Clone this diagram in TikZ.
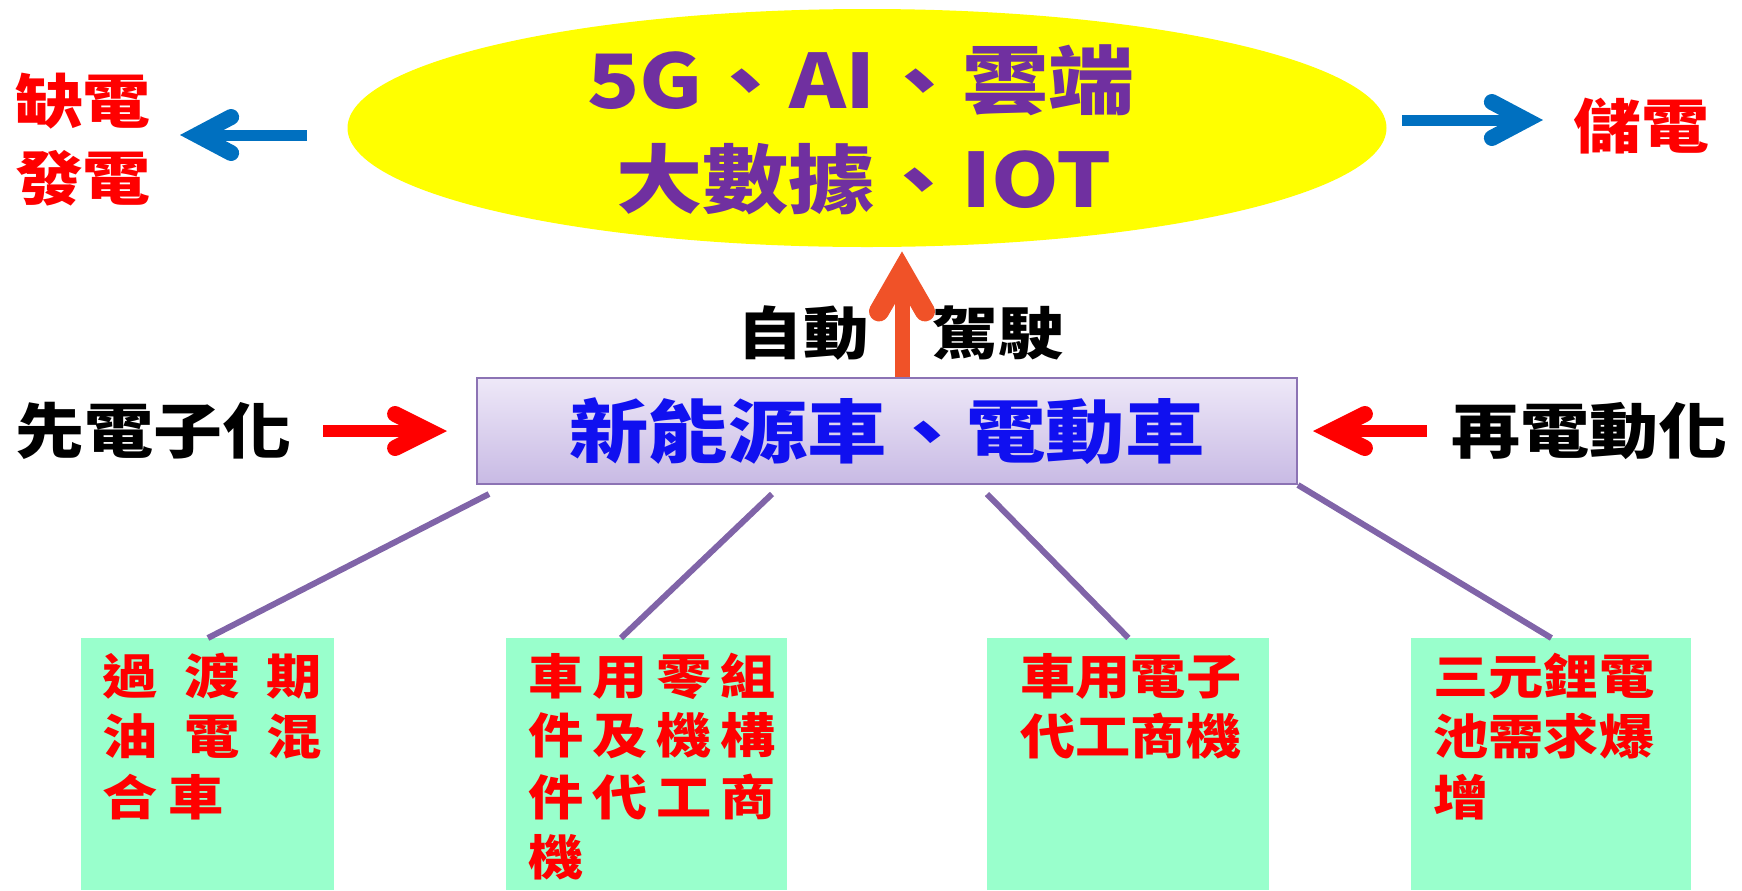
\documentclass[tikz,border=0pt]{standalone}
\usepackage{fontspec}
\setmainfont{Noto Sans CJK TC}[FakeStretch=1.15]
\usetikzlibrary{arrows.meta,shapes.geometric}
\definecolor{ellyellow}{RGB}{255,255,0}
\definecolor{ellpurple}{RGB}{112,48,160}
\definecolor{arrblue}{RGB}{0,112,192}
\definecolor{arrred}{RGB}{255,0,0}
\definecolor{arrorange}{RGB}{240,82,40}
\definecolor{linepurple}{RGB}{128,100,168}
\definecolor{mint}{RGB}{153,255,204}
\definecolor{cartop}{RGB}{238,232,248}
\definecolor{carbot}{RGB}{200,186,228}
\definecolor{carborder}{RGB}{140,115,180}
\definecolor{cartext}{RGB}{16,16,240}
\begin{document}
\begin{tikzpicture}[x=0.5pt,y=-0.5pt,
  lbl/.style={inner sep=0pt, font=\bfseries\fontsize{#1}{#1}\selectfont},
  btxt/.style={inner sep=0pt, anchor=west, text=arrred, font=\bfseries\fontsize{24}{24}\selectfont},
  greenbox/.style={fill=mint, draw=none, inner sep=0pt, anchor=north west, minimum height=126pt},
  carbox/.style={rectangle, top color=cartop, bottom color=carbot, draw=carborder, line width=1pt,
    minimum width=410pt, minimum height=53pt, inner sep=0pt, text=cartext,
    font=\bfseries\fontsize{34.5}{34.5}\selectfont},
  bluearrow/.style={draw=arrblue, line width=5.5pt,
    -{Straight Barb[length=17pt,width=18pt,line width=8pt,line cap=round,line join=miter]}},
  redarrow/.style={draw=arrred, line width=6pt,
    -{Straight Barb[length=17pt,width=17pt,line width=8pt,line cap=round,line join=miter]}},
  orangearrow/.style={draw=arrorange, line width=7.5pt,
    -{Straight Barb[length=20pt,width=23pt,line width=10pt,line cap=round,line join=miter]}},
  plink/.style={draw=linepurple, line width=3pt}]
\useasboundingbox (0,0) rectangle (1742,890);

% top ellipse
\node[ellipse, fill=ellyellow, draw=none, minimum width=519.5pt, minimum height=119pt, inner sep=0pt] (ell) at (867,128) {};
\node[lbl=37.5, text=ellpurple] (e1) at (861,80) {5G、AI、雲端};
\node[lbl=37.5, text=ellpurple] (e2) at (864,179) {大數據、IOT};

% side labels top
\node[lbl=29.5, text=arrred] (que) at (83,101) {缺電};
\node[lbl=29.5, text=arrred] (fa) at (83,178) {發電};
\node[lbl=29.5, text=arrred] (chu) at (1641,126) {儲電};

\coordinate (bl1) at (307,135);
\coordinate (bl2) at (180,135);
\coordinate (br1) at (1402,120);
\coordinate (br2) at (1543,120);
\draw[bluearrow] (bl1) -- (bl2);
\draw[bluearrow] (br1) -- (br2);

% central rectangle
\node[carbox] (car) at (887,431) {新能源車、電動車};

\node[lbl=30] (xian) at (154,431) {先電子化};
\node[lbl=30] (zai) at (1589,431) {再電動化};
\draw[redarrow] ([xshift=15.5pt]xian.east) -- ([xshift=-14.5pt]car.west);
\draw[redarrow] ([xshift=-12pt]zai.west) -- ([xshift=7.5pt]car.east);

\node[lbl=28.5] (zid) at (803,333) {自動};
\node[lbl=28.5] (jia) at (998,333) {駕駛};
\coordinate (ux) at (902,0);
\draw[orangearrow, shorten >=2pt] (car.north -| ux) -- (ell.south -| ux);

% bottom boxes
\node[greenbox, minimum width=126.5pt] (b1) at (81,638) {};
\node[greenbox, minimum width=140.5pt] (b2) at (506,638) {};
\node[greenbox, minimum width=141pt] (b3) at (987,638) {};
\node[greenbox, minimum width=140pt] (b4) at (1411,638) {};

\coordinate (p1t) at (489,494);
\coordinate (p2t) at (772,494);
\coordinate (p2b) at (621,638);
\coordinate (p3t) at (987,494);
\draw[plink] (p1t) -- (b1.north);
\draw[plink] (p2t) -- (p2b);
\draw[plink] (p3t) -- (b3.north);
\draw[plink] (car.south east) -- (b4.north);

% box texts
\node[btxt] (t11) at (102,676) {過\hspace{13.4pt}渡\hspace{13.4pt}期};
\node[btxt] (t12) at (102,736) {油\hspace{13.4pt}電\hspace{13.4pt}混};
\node[btxt] (t13) at (102,797) {合\hspace{5.5pt}車};

\node[btxt] (t21) at (528,676) {車\hspace{4.4pt}用\hspace{4.4pt}零\hspace{4.4pt}組};
\node[btxt] (t22) at (528,736) {件\hspace{4.4pt}及\hspace{4.4pt}機\hspace{4.4pt}構};
\node[btxt] (t23) at (528,797) {件\hspace{4.4pt}代\hspace{4.4pt}工\hspace{4.4pt}商};
\node[btxt] (t24) at (528,857) {機};

\node[btxt] (t31) at (1020,676) {車用電子};
\node[btxt] (t32) at (1020,736) {代工商機};

\node[btxt] (t41) at (1433,676) {三元鋰電};
\node[btxt] (t42) at (1433,736) {池需求爆};
\node[btxt] (t43) at (1433,797) {增};
\end{tikzpicture}
\end{document}
